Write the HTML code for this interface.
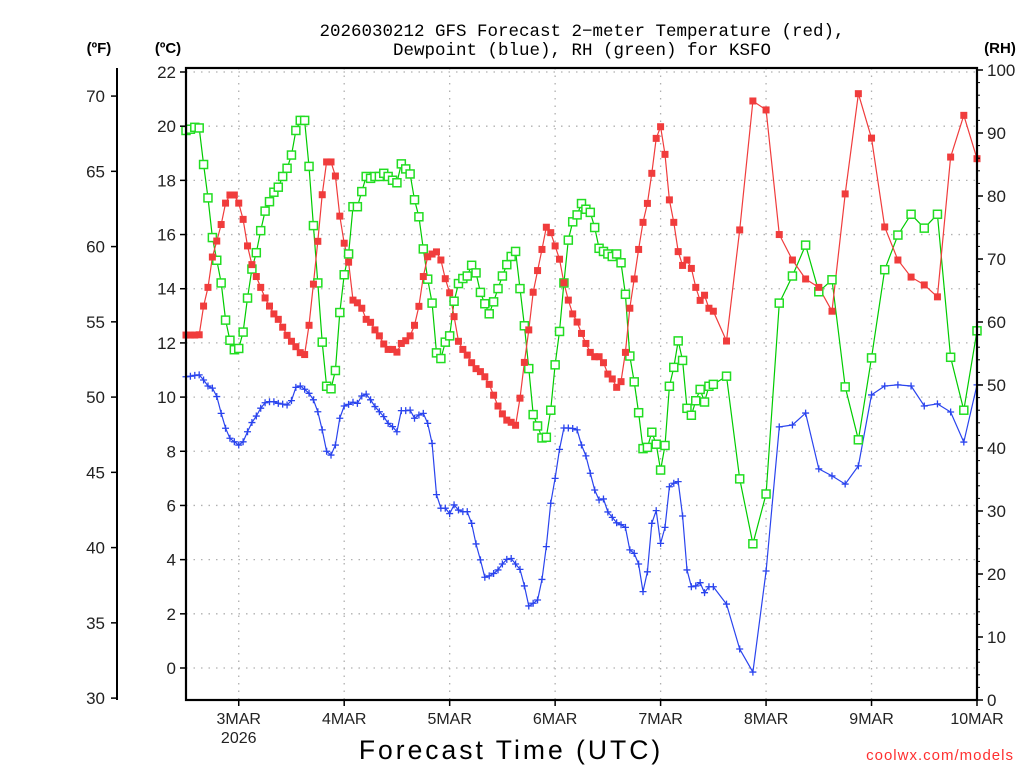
<!DOCTYPE html>
<html><head><meta charset="utf-8">
<style>
html,body{margin:0;padding:0;background:#fff;}
svg{display:block;}
text{font-family:"Liberation Sans",sans-serif;}
</style></head>
<body>
<svg id="chart" width="1024" height="768" viewBox="0 0 1024 768" xmlns="http://www.w3.org/2000/svg">
<text x="582" y="36" text-anchor="middle" font-size="17.5" fill="#000" style="font-family:'Liberation Mono',monospace">2026030212 GFS Forecast 2−meter Temperature (red),</text>
<text x="582" y="55" text-anchor="middle" font-size="17.5" fill="#000" style="font-family:'Liberation Mono',monospace">Dewpoint (blue), RH (green) for KSFO</text>
<text x="99" y="53" text-anchor="middle" font-size="15" font-weight="bold">(ºF)</text>
<text x="168" y="53" text-anchor="middle" font-size="15" font-weight="bold">(ºC)</text>
<text x="1000" y="53" text-anchor="middle" font-size="15" font-weight="bold">(RH)</text>
<text x="511" y="759" text-anchor="middle" font-size="26.5" letter-spacing="3">Forecast Time (UTC)</text>
<text x="1014" y="760" text-anchor="end" font-size="15" fill="#ff3030" letter-spacing="1">coolwx.com/models</text>
<g id="grid"></g>
<g id="series"></g>
<g id="axes"></g>
</svg>
<script>
const hours = [];
for (let h = 0; h <= 120; h++) hours.push(h);
for (let h = 123; h <= 180; h += 3) hours.push(h);

const tempC = [12.29,12.29,12.29,12.3,13.36,14.05,15.17,15.76,16.37,17.16,17.46,17.46,17.16,16.56,15.58,14.89,14.45,14.05,13.66,13.36,13.07,12.87,12.58,12.28,12.06,11.86,11.64,11.57,12.65,14.17,15.75,17.47,18.68,18.68,18.16,16.68,15.68,14.98,13.58,13.48,13.28,12.87,12.76,12.48,12.26,11.96,11.76,11.76,11.66,11.98,12.08,12.26,12.65,13.35,14.45,15.18,15.28,15.36,15.06,14.37,13.85,12.97,12.06,11.76,11.55,11.27,11.05,10.94,10.75,10.47,10.07,9.67,9.38,9.15,9.07,8.96,9.96,11.28,12.48,13.87,14.67,15.45,16.27,16.07,15.58,15.09,14.22,13.58,13.07,12.77,12.35,11.98,11.65,11.49,11.49,11.27,10.85,10.67,10.36,10.57,11.65,13.28,14.36,15.45,16.45,17.15,18.26,19.55,19.98,18.96,17.28,16.45,15.37,14.86,15.06,14.75,14.05,13.57,13.76,13.28,13.17,
12.07,16.17,20.93,20.6,16.0,15.06,14.36,14.05,13.17,17.5,21.2,19.56,16.28,15.06,14.43,14.14,13.7,18.86,20.4,18.8];

const dewC = [10.75,10.77,10.8,10.82,10.63,10.41,10.33,10.02,9.4,8.85,8.48,8.35,8.23,8.35,8.72,9.06,9.3,9.59,9.79,9.83,9.83,9.77,9.74,9.71,9.87,10.36,10.41,10.29,10.14,9.9,9.46,8.79,8.0,7.86,8.23,9.22,9.67,9.73,9.81,9.77,10.04,10.11,9.9,9.65,9.46,9.28,9.03,8.91,8.72,9.5,9.5,9.52,9.22,9.34,9.4,9.03,8.29,6.4,5.9,5.9,5.7,6.02,5.83,5.77,5.77,5.34,4.58,3.99,3.35,3.4,3.49,3.62,3.84,4.01,4.04,3.84,3.64,3.03,2.29,2.39,2.51,3.27,4.48,6.08,7.0,8.07,8.86,8.86,8.84,8.79,8.23,7.83,7.19,6.57,6.2,6.24,5.76,5.56,5.36,5.29,5.19,4.36,4.23,3.84,2.82,3.55,5.34,5.81,4.6,5.19,6.69,6.82,6.88,5.61,3.62,3.0,3.03,3.15,2.78,3.0,3.0,
2.36,0.7,-0.15,3.58,8.9,8.97,9.41,7.35,7.09,6.79,7.46,10.08,10.41,10.45,10.41,9.67,9.75,9.45,8.34,10.45];

const rh = [90.4,90.6,90.9,90.8,85.0,79.7,73.4,69.8,66.2,60.3,57.1,55.6,55.8,58.4,63.8,68.4,71.0,74.5,77.6,79.1,80.6,81.4,83.1,84.4,86.5,90.4,92.0,92.0,84.7,75.3,66.2,56.8,49.8,49.4,52.3,61.5,67.5,70.8,78.3,78.3,80.7,83.1,82.8,83.1,83.1,83.6,83.1,82.5,82.1,85.1,84.3,83.5,79.4,76.7,71.6,66.8,63.0,55.1,54.2,56.8,57.8,63.3,66.1,66.9,67.3,69.0,67.8,64.7,62.9,61.3,63.2,65.3,67.3,69.1,70.4,71.2,65.3,59.4,52.6,45.3,43.5,41.6,41.7,46.0,53.2,58.5,66.2,73.0,75.9,77.0,78.8,77.9,77.4,75.0,71.7,71.2,70.8,70.4,70.8,69.4,64.4,54.6,50.5,45.6,39.9,40.1,42.5,40.6,36.5,40.4,49.8,52.8,57.0,53.9,46.3,45.2,47.5,49.3,47.3,49.8,50.1,
51.4,35.1,24.8,32.7,63.0,67.3,72.2,64.8,66.7,49.7,41.3,54.3,68.3,73.8,77.1,74.9,77.1,54.4,46.0,58.6];

const celsiusTicks = [0,2,4,6,8,10,12,14,16,18,20,22];
const fahrenheitTicks = [30,35,40,45,50,55,60,65,70];
const rhTicks = [0,10,20,30,40,50,60,70,80,90,100];
const dayLabels = ["3MAR","4MAR","5MAR","6MAR","7MAR","8MAR","9MAR","10MAR"];
const dayHours = [12,36,60,84,108,132,156,180];

const L = 186, R = 977, T = 68, B = 700;
const xOf = h => L + (h / 180) * (R - L);
const yC = c => 668 - c * (596 / 22);
const yF = f => yC((f - 32) * 5 / 9);
const yRH = r => B - r * (B - 70) / 100;
const NS = "http://www.w3.org/2000/svg";
function mk(tag, attrs, parent) {
  const e = document.createElementNS(NS, tag);
  for (const k in attrs) e.setAttribute(k, attrs[k]);
  parent.appendChild(e);
  return e;
}
const grid = document.getElementById('grid');
const series = document.getElementById('series');
const axes = document.getElementById('axes');

celsiusTicks.forEach(c => {
  const ln = mk('line', {x1: L, x2: R, y1: yC(c), y2: yC(c), stroke: '#b0b0b0', 'stroke-width': 1.3, 'stroke-dasharray': '1.5,6'}, grid);
  
  
  const tk = mk('line', {x1: L - 6, x2: L, y1: yC(c), y2: yC(c), stroke: '#000', 'stroke-width': 1.5}, axes);
  
  
  const t = mk('text', {x: L - 10, y: yC(c) + 6, 'text-anchor': 'end', 'font-size': 17, fill: '#222'}, axes);
  t.textContent = c;
  
  
});
dayHours.forEach((h, i) => {
  const ln = mk('line', {x1: xOf(h), x2: xOf(h), y1: T, y2: B, stroke: '#b0b0b0', 'stroke-width': 1.3, 'stroke-dasharray': '1.5,6'}, grid);
  
  
  const tk = mk('line', {x1: xOf(h), x2: xOf(h), y1: B, y2: B + 6, stroke: '#000', 'stroke-width': 1.5}, axes);
  
  
  const t = mk('text', {x: xOf(h), y: B + 24, 'text-anchor': 'middle', 'font-size': 16, fill: '#222'}, axes);
  t.textContent = dayLabels[i];
  
  
});
const yr = mk('text', {x: xOf(12), y: B + 43, 'text-anchor': 'middle', 'font-size': 16, fill: '#222'}, axes);
yr.textContent = '2026';



fahrenheitTicks.forEach(f => {
  const tk = mk('line', {x1: 111, x2: 117, y1: yF(f), y2: yF(f), stroke: '#000', 'stroke-width': 1.5}, axes);
  
  
  const t = mk('text', {x: 105, y: yF(f) + 6, 'text-anchor': 'end', 'font-size': 17, fill: '#222'}, axes);
  t.textContent = f;
  
  
});
rhTicks.forEach(r => {
  const tk = mk('line', {x1: R, x2: R + 6, y1: yRH(r), y2: yRH(r), stroke: '#000', 'stroke-width': 1.5}, axes);
  
  
  const t = mk('text', {x: R + 10, y: yRH(r) + 6, 'text-anchor': 'start', 'font-size': 17, fill: '#222'}, axes);
  t.textContent = r;
  
  
});
for (let r = 0; r <= 100; r += 2) {
  if (r % 10 === 0) continue;
  const tk = mk('line', {x1: R, x2: R + 3, y1: yRH(r), y2: yRH(r), stroke: '#000', 'stroke-width': 1}, axes);
  
  
}
const fax = mk('line', {x1: 117, x2: 117, y1: T, y2: B, stroke: '#000', 'stroke-width': 2}, axes);


const frame = mk('rect', {x: L, y: T, width: R - L, height: B - T, fill: 'none', stroke: '#000', 'stroke-width': 2.2}, axes);



function drawLine(vals, yfn, color, name) {
  const pts = vals.map((v, i) => xOf(hours[i]).toFixed(1) + ',' + yfn(v).toFixed(1)).join(' ');
  const pl = mk('polyline', {points: pts, fill: 'none', stroke: color, 'stroke-width': 1.2}, series);
  
  
}
drawLine(rh, yRH, '#00cc00', 'rh-line');
drawLine(tempC, yC, '#f03c3c', 'temperature-line');
drawLine(dewC, yC, '#2a44ee', 'dewpoint-line');

rh.forEach((v, i) => {
  const s = mk('rect', {x: xOf(hours[i]) - 4, y: yRH(v) - 4, width: 8, height: 8, fill: '#fff', stroke: '#22dd22', 'stroke-width': 1.5}, series);
  
  
});
tempC.forEach((v, i) => {
  const s = mk('rect', {x: xOf(hours[i]) - 3.5, y: yC(v) - 3.5, width: 7, height: 7, fill: '#f03c3c'}, series);
  
  
});
dewC.forEach((v, i) => {
  const x = xOf(hours[i]), y = yC(v);
  const p = mk('path', {d: `M${x-3.5},${y}H${x+3.5}M${x},${y-3.5}V${y+3.5}`, stroke: '#2a44ee', 'stroke-width': 1.3, fill: 'none'}, series);
  
  
});
</script>
</body></html>
